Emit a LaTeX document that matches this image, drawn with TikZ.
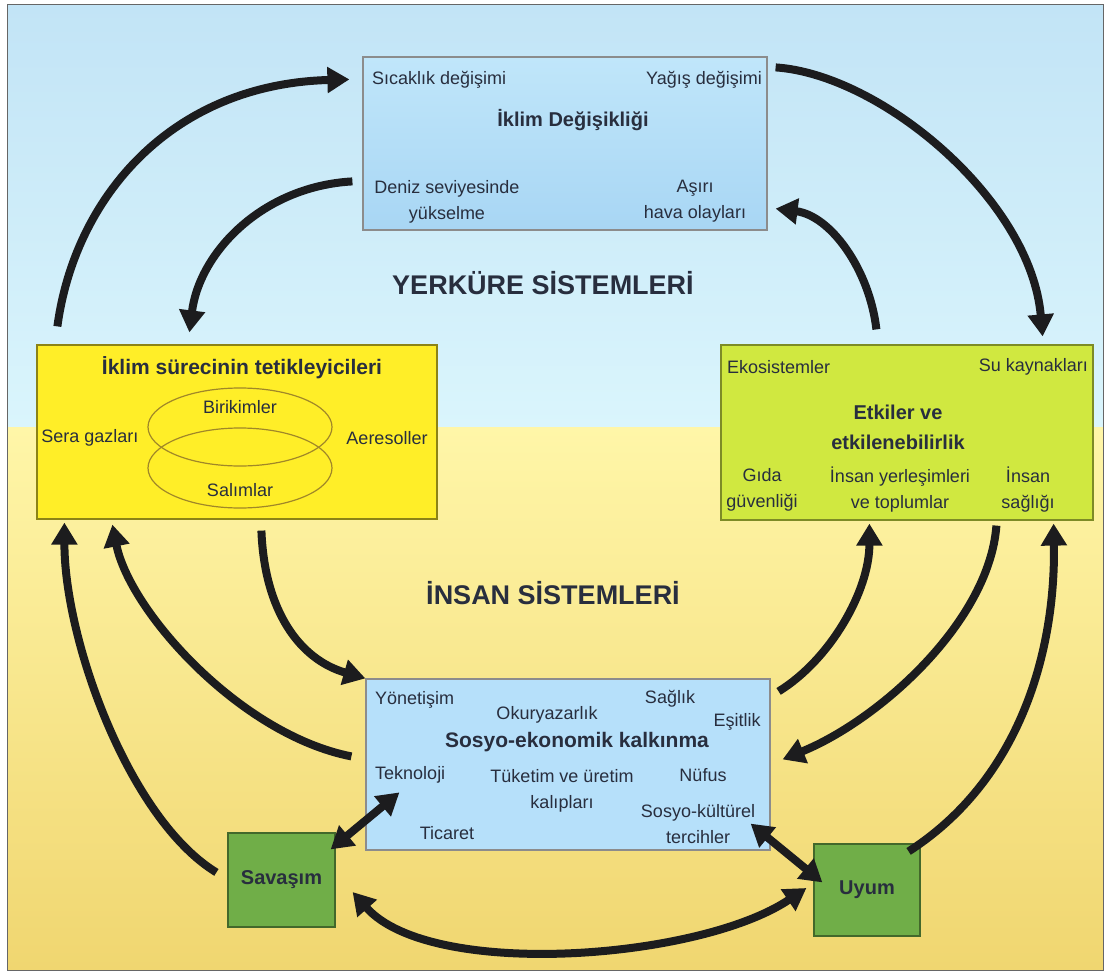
\documentclass[tikz,border=0pt]{standalone}
\usepackage{fontspec}
\setmainfont{Liberation Sans}
\usetikzlibrary{arrows.meta}
\definecolor{skyA}{RGB}{194,228,246}
\definecolor{skyB}{RGB}{218,245,252}
\definecolor{sandA}{RGB}{255,246,168}
\definecolor{sandB}{RGB}{240,214,112}
\definecolor{climA}{RGB}{192,230,250}
\definecolor{climB}{RGB}{168,214,244}
\definecolor{trigY}{RGB}{255,238,40}
\definecolor{impG}{RGB}{208,232,64}
\definecolor{socB}{RGB}{182,224,250}
\definecolor{actG}{RGB}{112,174,72}
\definecolor{txtD}{RGB}{40,46,62}
\definecolor{arrK}{RGB}{28,28,30}
\definecolor{ringC}{RGB}{160,135,40}

\begin{document}
\begin{tikzpicture}[x=1pt,y=-1pt,
  box/.style={draw=#1,line width=1.2pt,inner sep=0pt},box/.default=gray,
  lbl/.style={text=txtD,font=\fontsize{18}{26}\selectfont,inner sep=0pt,align=center},
  ttl/.style={text=txtD,font=\fontsize{20}{30}\selectfont\bfseries,inner sep=0pt,align=center},
  sys/.style={text=txtD,font=\fontsize{27}{30}\selectfont\bfseries,inner sep=0pt},
  arr/.style={draw=arrK,line width=8pt,-{Triangle[length=22pt,width=25pt]}},
  darr/.style={draw=arrK,line width=8pt,{Triangle[length=22pt,width=25pt]}-{Triangle[length=22pt,width=25pt]}}]
\useasboundingbox (0,0) rectangle (1110,974);
% sky and ground
\shade[top color=skyA,bottom color=skyB] (7,5) rectangle (1103,427);
\shade[top color=sandA,bottom color=sandB] (7,427) rectangle (1103,970);
\draw[black!60,line width=1pt] (7,5) rectangle (1103,970);

\node[sys] (yerk) at (543,283) {YERKÜRE SİSTEMLERİ};
\node[sys] (insan) at (553,593) {İNSAN SİSTEMLERİ};

% climate change
\node[box={black!45},top color=climA,bottom color=climB,minimum width=404pt,minimum height=173pt] (clim) at (565,143.5) {};
\node[lbl,anchor=west] (sicak) at (372,80) {Sıcaklık değişimi};
\node[lbl,anchor=east] (yagis) at (762,80) {Yağış değişimi};
\node[ttl] (climT) at (573,120) {İklim Değişikliği};
\node[lbl] (deniz) at (447,201.5) {Deniz seviyesinde\\yükselme};
\node[lbl] (asiri) at (695,201.5) {Aşırı\\hava olayları};

% drivers
\node[box={black!45!trigY},fill=trigY,minimum width=400pt,minimum height=174pt] (trig) at (237,432) {};
\node[ttl,font=\fontsize{21}{30}\selectfont\bfseries] (trigT) at (242,368) {İklim sürecinin tetikleyicileri};
\draw[ringC,line width=1.2pt] (240,427) ellipse (92 and 39);
\draw[ringC,line width=1.2pt] (240,468) ellipse (92 and 40);
\node[lbl] (birik) at (240,407) {Birikimler};
\node[lbl] (salim) at (240,490) {Salımlar};
\node[lbl] (sera) at (90,438) {Sera gazları};
\node[lbl] (aero) at (387,438) {Aeresoller};

% impacts
\node[box={black!40!impG},fill=impG,minimum width=372pt,minimum height=175pt] (impact) at (907,432.5) {};
\node[lbl,anchor=west] (ekos) at (727,367) {Ekosistemler};
\node[lbl,anchor=east] (suk) at (1088,367) {Su kaynakları};
\node[ttl] (impT) at (898,427) {Etkiler ve\\etkilenebilirlik};
\node[lbl] (gida) at (762,490) {Gıda\\güvenliği};
\node[lbl] (yerles) at (900,490) {İnsan yerleşimleri\\ve toplumlar};
\node[lbl] (saglik) at (1028,490) {İnsan\\sağlığı};

% socio-economic development
\node[box={black!45},fill=socB,minimum width=404pt,minimum height=171pt] (socio) at (568,764.5) {};
\node[lbl,anchor=west] (yonet) at (375,700) {Yönetişim};
\node[lbl] (okur) at (547,715) {Okuryazarlık};
\node[lbl] (sagl) at (670,699) {Sağlık};
\node[lbl] (esit) at (737,722) {Eşitlik};
\node[ttl,font=\fontsize{21}{30}\selectfont\bfseries] (socT) at (577,742) {Sosyo-ekonomik kalkınma};
\node[lbl,anchor=west] (tekno) at (375,775) {Teknoloji};
\node[lbl] (tuket) at (562,790.5) {Tüketim ve üretim\\kalıpları};
\node[lbl] (nufus) at (703,775) {Nüfus};
\node[lbl] (sosyo) at (698,824) {Sosyo-kültürel\\tercihler};
\node[lbl] (ticaret) at (447,833) {Ticaret};

% mitigation and adaptation
\node[box={black!40!actG},fill=actG,minimum width=107pt,minimum height=94pt,ttl] (savas) at (281.5,880) {Savaşım};
\node[box={black!40!actG},fill=actG,minimum width=106pt,minimum height=92pt,ttl] (uyum) at (867,890) {Uyum};

% upper cycle
\draw[arr] ([xshift=21pt,yshift=18pt]trig.north west) .. controls +(17,-127) and +(-180,5) .. ([xshift=-13pt,yshift=-23pt]clim.north west);
\draw[arr] ([xshift=-10pt,yshift=-125pt]clim.north west) .. controls +(-90,5) and +(10,-80) .. ([xshift=153pt,yshift=12pt]trig.north west);
\draw[arr] ([xshift=8pt,yshift=-11pt]clim.north east) .. controls +(105,7) and +(-12,-137) .. ([xshift=-51pt,yshift=8pt]impact.north east);
\draw[arr] ([xshift=156pt,yshift=15pt]impact.north west) .. controls +(-7,-60) and +(55,7) .. ([xshift=8pt,yshift=22pt]clim.south east);
% lower cycle
\draw[arr] ([xshift=-11pt,yshift=-40pt]savas.north west) .. controls +(-87,-53) and +(0,118) .. ([xshift=28pt,yshift=-3pt]trig.south west);
\draw[arr] ([xshift=-14pt,yshift=-78pt]socio.north west) .. controls +(-112,-22) and +(17,86) .. ([xshift=76pt,yshift=-5pt]trig.south west);
\draw[arr] ([xshift=225pt,yshift=-11pt]trig.south west) .. controls +(3,80) and +(-66,-19) .. (socio.north west);
\draw[arr] ([xshift=8pt,yshift=-13pt]socio.north east) .. controls +(52,-32) and +(0,67) .. ([xshift=149pt,yshift=-3pt]impact.south west);
\draw[arr] ([xshift=276pt,yshift=-5pt]impact.south west) .. controls +(-7,95) and +(98,-40) .. ([xshift=12pt,yshift=-81pt]socio.north east);
\draw[arr] ([xshift=-12pt,yshift=-8pt]uyum.north east) .. controls +(112,-72) and +(2,127) .. ([xshift=-40pt,yshift=-3pt]impact.south east);
% responses
\draw[darr] ([xshift=-5pt,yshift=-17pt]savas.north east) -- ([xshift=34pt,yshift=-114pt]socio.north west);
\draw[darr] ([xshift=-20pt,yshift=27pt]socio.south east) -- ([xshift=9pt,yshift=-39pt]uyum.north west);
\draw[darr] ([xshift=17pt,yshift=-12pt]savas.east) .. controls +(78,88) and +(-107,72) .. ([xshift=-7pt,yshift=2pt]uyum.west);
\end{tikzpicture}
\end{document}
